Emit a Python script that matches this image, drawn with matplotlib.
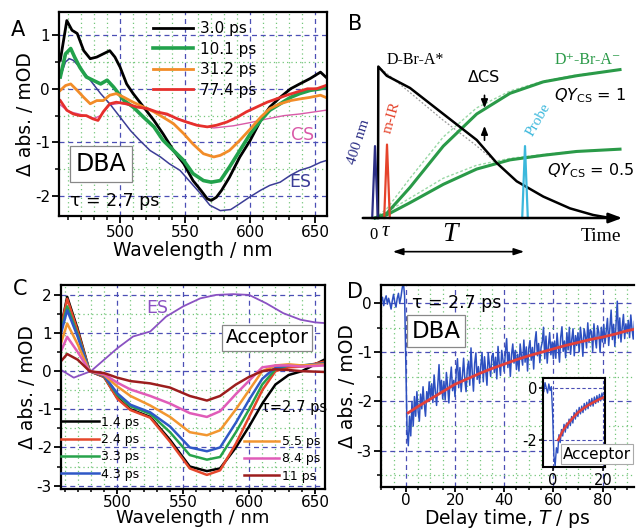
import numpy as np
import matplotlib
matplotlib.use("Agg")
import matplotlib.pyplot as plt
from matplotlib.ticker import MultipleLocator

plt.rcParams['font.family'] = ['DejaVu Sans']
plt.rcParams['mathtext.fontset'] = 'dejavusans'
plt.rcParams['axes.unicode_minus'] = False

# ---------------- Panel A data (DBA, tau = 2.7 ps) ----------------
a_wl_black = [454, 459, 463, 467, 472, 477, 482, 487, 492, 496, 500, 505, 510, 518, 526, 533, 541, 549, 556, 562, 567, 570, 574, 578, 584, 592, 600, 608, 615, 623, 631, 638, 646, 654, 658]
a_black = [0.53, 1.27, 1.09, 1.03, 0.71, 0.56, 0.59, 0.65, 0.71, 0.59, 0.40, 0.09, -0.09, -0.34, -0.59, -0.84, -1.15, -1.40, -1.71, -1.89, -2.05, -2.08, -2.02, -1.89, -1.65, -1.27, -0.96, -0.59, -0.34, -0.16, 0.0, 0.09, 0.19, 0.31, 0.22]
a_wl_green = [454, 458, 462, 465, 469, 474, 479, 485, 490, 495, 503, 510, 518, 526, 533, 541, 549, 556, 564, 570, 577, 584, 592, 600, 608, 615, 623, 631, 638, 646, 654, 658]
a_green = [0.22, 0.65, 0.75, 0.59, 0.40, 0.22, 0.16, 0.09, 0.16, 0.03, -0.22, -0.34, -0.53, -0.71, -0.96, -1.15, -1.34, -1.58, -1.71, -1.74, -1.71, -1.46, -1.15, -0.84, -0.59, -0.40, -0.28, -0.16, -0.09, -0.03, 0.0, 0.03]
a_wl_orange = [454, 458, 462, 467, 472, 477, 482, 487, 492, 497, 503, 510, 518, 526, 533, 541, 549, 556, 564, 572, 577, 584, 592, 600, 608, 615, 623, 631, 638, 646, 654, 658]
a_orange = [-0.03, 0.06, 0.09, -0.03, -0.16, -0.28, -0.22, -0.22, -0.12, -0.09, -0.16, -0.25, -0.34, -0.43, -0.53, -0.65, -0.84, -1.03, -1.21, -1.27, -1.24, -1.15, -0.96, -0.75, -0.53, -0.37, -0.28, -0.22, -0.19, -0.16, -0.12, -0.16]
a_wl_red = [454, 459, 464, 469, 474, 479, 483, 487, 492, 497, 505, 513, 521, 528, 536, 544, 551, 559, 567, 574, 582, 590, 597, 605, 613, 620, 628, 636, 644, 651, 658]
a_red = [-0.22, -0.40, -0.47, -0.50, -0.50, -0.56, -0.59, -0.43, -0.28, -0.25, -0.28, -0.34, -0.37, -0.43, -0.47, -0.56, -0.62, -0.68, -0.71, -0.68, -0.62, -0.53, -0.43, -0.34, -0.25, -0.19, -0.12, -0.06, 0.0, 0.0, 0.06]
a_wl_cs = [454, 460, 470, 480, 485, 492, 500, 520, 540, 560, 572, 587, 600, 613, 626, 638, 658]
a_cs = [-0.30, -0.42, -0.48, -0.55, -0.50, -0.30, -0.27, -0.38, -0.52, -0.68, -0.73, -0.69, -0.63, -0.56, -0.50, -0.47, -0.40]
a_wl_es = [454, 458, 461, 464, 469, 477, 485, 492, 500, 508, 515, 523, 531, 538, 546, 554, 562, 569, 577, 585, 592, 600, 608, 615, 623, 631, 638, 646, 654, 658]
a_es = [0.22, 0.50, 0.56, 0.53, 0.40, 0.16, -0.09, -0.28, -0.53, -0.78, -0.96, -1.15, -1.27, -1.40, -1.52, -1.74, -1.96, -2.17, -2.27, -2.25, -2.14, -2.01, -1.89, -1.80, -1.74, -1.61, -1.52, -1.46, -1.37, -1.34]
a_labels = ['3.0 ps', '10.1 ps', '31.2 ps', '77.4 ps']

# ---------------- Panel C data (Acceptor) ----------------
c_wl = [457, 462, 470, 479, 490, 500, 510, 525, 540, 555, 568, 578, 590, 600, 610, 620, 630, 640, 657]
c_14 = [1.10, 1.95, 1.10, 0.0, -0.15, -0.70, -1.00, -1.20, -1.80, -2.50, -2.62, -2.55, -2.00, -1.45, -0.85, -0.35, -0.10, 0.00, 0.30]
c_24 = [1.10, 1.90, 1.05, 0.0, -0.15, -0.72, -1.02, -1.22, -1.85, -2.55, -2.72, -2.60, -1.90, -1.20, -0.50, 0.00, 0.10, 0.12, 0.25]
c_33 = [1.00, 1.70, 0.95, 0.0, -0.12, -0.62, -0.92, -1.12, -1.60, -2.20, -2.32, -2.25, -1.60, -1.00, -0.35, 0.05, 0.15, 0.15, 0.20]
c_43 = [0.95, 1.60, 0.90, 0.0, -0.12, -0.58, -0.88, -1.08, -1.45, -2.00, -2.10, -2.00, -1.35, -0.75, -0.20, 0.10, 0.15, 0.15, 0.20]
c_55 = [0.70, 1.25, 0.70, 0.0, -0.10, -0.40, -0.65, -0.90, -1.20, -1.60, -1.68, -1.55, -1.00, -0.50, 0.00, 0.15, 0.18, 0.15, 0.18]
c_84 = [0.50, 0.90, 0.50, 0.0, -0.08, -0.30, -0.48, -0.65, -0.85, -1.10, -1.20, -1.05, -0.60, -0.25, 0.10, 0.15, 0.15, 0.12, 0.15]
c_11 = [0.25, 0.45, 0.30, 0.0, -0.05, -0.17, -0.26, -0.32, -0.43, -0.65, -0.77, -0.65, -0.35, -0.15, 0.00, 0.05, 0.03, 0.00, -0.02]
c_wl_es = [457, 467, 480, 500, 512, 525, 537, 550, 563, 575, 588, 600, 613, 626, 639, 650, 658]
c_es = [0.04, -0.17, 0.0, 0.60, 0.91, 1.04, 1.43, 1.70, 1.91, 2.00, 2.02, 2.00, 1.78, 1.52, 1.35, 1.28, 1.26]
c_labels = ['1.4 ps', '2.4 ps', '3.3 ps', '4.3 ps', '5.5 ps', '8.4 ps', '11 ps']

# ---------------- Panel D data (delay-time trace) ----------------
d_t_start, d_t_step = -10.0, 0.5
d_trace = [0.05, 0.12, -0.05, 0.08, 0.15, -0.02, 0.10, 0.00, -0.12, 0.05, 0.18, 0.02, -0.08, 0.10, 0.20, 0.00, 0.12, 0.30, 0.42, 0.15,
           -1.20, -2.60, -2.90, -2.30, -2.70, -2.00, -2.50, -1.90, -2.30, -1.80, -2.20, -2.40, -1.85, -2.15, -1.70, -2.05, -2.30, -1.80, -2.00, -1.60, -1.95,
           -1.64, -2.02, -1.46, -1.79, -2.08, -1.66, -1.25, -1.83, -1.57, -1.95,
           -1.59, -1.97, -1.41, -1.69, -2.03, -1.56, -1.30, -1.78, -1.57, -1.90,
           -1.39, -1.13, -1.72, -1.31, -1.80, -1.48, -1.12, -1.56, -1.80, -1.34,
           -1.18, -1.67, -0.91, -1.40, -1.79, -1.22, -1.01, -1.55, -1.29, -1.63,
           -1.27, -1.01, -1.60, -1.09, -1.38, -1.67, -1.01, -1.25, -1.49, -1.08,
           -1.02, -1.41, -1.10, -1.54, -0.88, -1.23, -1.47, -0.96, -1.15, -1.39,
           -0.98, -0.72, -1.31, -1.00, -1.49, -1.04, -0.83, -1.22, -0.96, -1.35,
           -1.04, -1.38, -0.83, -1.07, -1.26, -0.75, -1.20, -0.89, -1.38, -0.92,
           -0.76, -1.16, -0.90, -1.34, -0.79, -0.58, -1.07, -0.82, -1.21, -0.90,
           -0.79, -0.49, -1.13, -0.67, -1.22, -0.86, -0.60, -1.05, -0.79, -1.13,
           -0.77, -1.12, -0.61, -0.90, -1.20, -0.69, -0.48, -0.98, -0.77, -1.11,
           -0.60, -0.95, -0.49, -1.04, -0.73, -0.52, -1.07, -0.66, -0.86, -0.60,
           -0.99, -0.49, -0.73, -1.08, -0.52, -0.66, -0.91, -0.40, -0.80, -0.54,
           -0.58, -0.98, -0.42, -0.72, -0.91, -0.46, -0.60, -1.00, -0.49, -0.79,
           -0.43, -0.82, -0.57, -0.31, -0.86, -0.50, -0.14, -0.74, -0.43, -0.88,
           -0.42, 0.04, -0.71, -0.30, -0.79, -0.49, -0.23, -0.72, -0.42, -0.61,
           -0.35, -0.70, -0.24, -0.53, -0.73, -0.37]
d_fit_t = [1, 5, 10, 15, 20, 25, 30, 35, 40, 45, 50, 55, 60, 65, 70, 75, 80, 85, 90, 93]
d_fit = [-2.23, -2.10, -1.95, -1.80, -1.65, -1.54, -1.43, -1.33, -1.24, -1.15, -1.07, -1.00, -0.93, -0.86, -0.80, -0.74, -0.69, -0.63, -0.56, -0.53]
# inset (Acceptor)
i_t_start, i_t_step = -4.0, 0.5
i_trace = [0.10, -0.15, 0.20, 0.00, -0.20, 0.15, -0.10, 0.05, -1.00, -2.60, -3.00, -2.30, -2.50, -1.80, -2.10, -1.60, -1.85, -1.40, -1.70, -1.35,
           -1.55, -1.20, -1.45, -1.10, -1.35, -0.95, -1.20, -0.85, -1.10, -0.75, -1.00, -0.70, -0.95, -0.60, -0.85, -0.55, -0.80, -0.45, -0.70, -0.40,
           -0.70, -0.35, -0.60, -0.30, -0.55, -0.25, -0.50, -0.20, -0.45, -0.30]
i_fit_t = [2.2, 4, 6, 8, 10, 12, 14, 16, 18, 20.5]
i_fit = [-2.00, -1.65, -1.38, -1.15, -0.95, -0.80, -0.67, -0.56, -0.46, -0.35]

# ---------------- Panel B schematic ----------------
b_t_black = [0.30, 0.33, 1.17, 3.5, 6.83, 10.17, 12.17, 14.17, 16.83, 19.5, 21.8, 23.5]
b_black = [0.0, 0.99, 0.93, 0.85, 0.68, 0.51, 0.36, 0.24, 0.14, 0.063, 0.02, 0.0]
b_t_dot = [0.33, 3.5, 6.8, 10.0, 12.2]
b_dot = [0.99, 0.82, 0.64, 0.48, 0.36]
b_t_green = [0.0, 1.17, 3.5, 6.83, 10.17, 13.5, 16.83, 20.17, 24.5]
b_qy1 = [0.0, 0.03, 0.20, 0.47, 0.68, 0.815, 0.89, 0.93, 0.97]
b_qy1_alt = [0.0, 0.06, 0.26, 0.53, 0.72, 0.83, 0.895, 0.935, 0.97]
b_qy05 = [0.0, 0.02, 0.10, 0.22, 0.32, 0.38, 0.41, 0.435, 0.45]
b_qy05_alt = [0.0, 0.04, 0.13, 0.26, 0.345, 0.39, 0.415, 0.437, 0.45]
b_pulse_t = [0.0, 1.2, 15.0]
b_pulse_h = [0.47, 0.48, 0.47]
b_pulse_colors = ['#2c2f86', '#e5432b', '#3cb8dc']

# ---------------- styling helpers ----------------
BLUE_GRID = '#4b4fb5'
GREEN_GRID = '#74c77a'
TICK = 11
LAB = 13.5
W, H = 636, 531
fig = plt.figure(figsize=(W / 100, H / 100), dpi=100)


def px_axes(left, top, right, bottom):
    return fig.add_axes([left / W, 1 - bottom / H, (right - left) / W, (bottom - top) / H])


def style(ax, xmaj, xmin, ymaj, ymin, xlen=5, xpad=1.5):
    ax.xaxis.set_major_locator(MultipleLocator(xmaj))
    ax.xaxis.set_minor_locator(MultipleLocator(xmin))
    ax.yaxis.set_major_locator(MultipleLocator(ymaj))
    ax.yaxis.set_minor_locator(MultipleLocator(ymin))
    ax.grid(which='major', color=BLUE_GRID, ls=(0, (4, 3)), lw=0.9)
    ax.grid(which='minor', color=GREEN_GRID, ls=(0, (1, 2.5)), lw=0.9)
    ax.set_axisbelow(True)
    for s in ax.spines.values():
        s.set_linewidth(1.6)
    ax.tick_params(which='major', direction='out', length=5, width=1.3, labelsize=TICK, pad=1.5)
    ax.tick_params(which='minor', direction='out', length=3, width=1.1)
    ax.tick_params(axis='x', which='major', length=xlen, pad=xpad)
    ax.tick_params(axis='x', which='minor', length=min(3, xlen * 0.6))


# ---------------- Panel A ----------------
axA = px_axes(59, 12, 327, 216)
axA.plot(a_wl_cs, a_cs, color='#d95aa8', lw=1.0)
axA.plot(a_wl_es, a_es, color='#3b3d96', lw=1.1)
hA = []
hA += axA.plot(a_wl_black, a_black, color='black', lw=2.0)
hA += axA.plot(a_wl_green, a_green, color='#22a24c', lw=2.6)
hA += axA.plot(a_wl_orange, a_orange, color='#f28c28', lw=2.0)
hA += axA.plot(a_wl_red, a_red, color='#e6302c', lw=2.0)
axA.set_xlim(453, 659)
axA.set_ylim(-2.37, 1.43)
style(axA, 50, 10, 1, 0.5)
axA.set_xlabel('Wavelength / nm', fontsize=LAB, labelpad=1)
axA.set_ylabel('Δ abs. / mOD', fontsize=LAB, labelpad=0)
axA.legend(hA, a_labels, loc='upper left', bbox_to_anchor=(0.35, 0.955), frameon=False,
           fontsize=11, handlelength=2.6, handletextpad=0.5, labelspacing=0.36,
           borderpad=0, borderaxespad=0)
axA.text(0.157, 0.255, 'DBA', transform=axA.transAxes, fontsize=17, ha='center', va='center',
         bbox=dict(boxstyle='square,pad=0.25', fc='white', ec='#888888', lw=0.9))
axA.text(0.209, 0.074, 'τ = 2.7 ps', transform=axA.transAxes, fontsize=12.5, ha='center', va='center')
axA.text(0.907, 0.397, 'CS', transform=axA.transAxes, fontsize=12.5, ha='center', va='center', color='#d95aa8')
axA.text(0.899, 0.167, 'ES', transform=axA.transAxes, fontsize=12.5, ha='center', va='center', color='#3b3d96')
fig.text(17.5 / W, 1 - 29.5 / H, 'A', fontsize=15, ha='center', va='center')

# ---------------- Panel C ----------------
axC = px_axes(61, 285, 325, 489)
axC.plot(c_wl_es, c_es, color='#8a52c2', lw=1.3)
c_colors = ['black', '#e5472b', '#27a34b', '#2f58c6', '#f29630', '#e05cb8', '#9c1d1d']
c_series = [c_14, c_24, c_33, c_43, c_55, c_84, c_11]
hC = []
for ys, col in zip(c_series, c_colors):
    hC += axC.plot(c_wl, ys, color=col, lw=1.8)
axC.set_xlim(457.3, 657.6)
axC.set_ylim(-3.09, 2.26)
style(axC, 50, 10, 1, 0.5, xlen=3.5, xpad=1)
axC.set_xlabel('Wavelength / nm', fontsize=13, labelpad=-1)
axC.set_ylabel('Δ abs. / mOD', fontsize=LAB, labelpad=0)
legC1 = axC.legend(hC[:4], c_labels[:4], loc='upper left', bbox_to_anchor=(0.0, 0.36), frameon=False,
                   fontsize=9, handlelength=3.0, handletextpad=0.2, labelspacing=0.35,
                   borderpad=0, borderaxespad=0)
axC.add_artist(legC1)
axC.legend(hC[4:], c_labels[4:], loc='upper left', bbox_to_anchor=(0.695, 0.265), frameon=False,
           fontsize=9, handlelength=2.8, handletextpad=0.2, labelspacing=0.35,
           borderpad=0, borderaxespad=0)
axC.text(0.364, 0.888, 'ES', transform=axC.transAxes, fontsize=12.5, ha='center', va='center', color='#8a52c2')
axC.text(0.780, 0.741, 'Acceptor', transform=axC.transAxes, fontsize=13.5, ha='center', va='center',
         bbox=dict(boxstyle='square,pad=0.2', fc='white', ec='#888888', lw=0.9))
axC.text(0.883, 0.40, 'τ=2.7 ps', transform=axC.transAxes, fontsize=10.5, ha='center', va='center')
fig.text(20 / W, 1 - 289 / H, 'C', fontsize=15, ha='center', va='center')

# ---------------- Panel D ----------------
axD = px_axes(381, 285, 634, 487)
d_t = d_t_start + d_t_step * np.arange(len(d_trace))
axD.plot(d_t, d_trace, color='#2d50c0', lw=1.1)
axD.plot(d_fit_t, d_fit, color='#e2403a', lw=2.0)
axD.set_xlim(-10.1, 92.8)
axD.set_ylim(-3.74, 0.37)
style(axD, 20, 5, 1, 0.5, xlen=3.5, xpad=1)
axD.spines['right'].set_visible(False)
axD.set_xlabel('Delay time, $T$ / ps', fontsize=LAB, labelpad=-1)
axD.set_ylabel('Δ abs. / mOD', fontsize=LAB, labelpad=0)
axD.text(0.30, 0.912, 'τ = 2.7 ps', transform=axD.transAxes, fontsize=12.5, ha='center', va='center')
axD.text(0.217, 0.771, 'DBA', transform=axD.transAxes, fontsize=16.5, ha='center', va='center',
         bbox=dict(boxstyle='square,pad=0.2', fc='white', ec='#888888', lw=0.9))
fig.text(355 / W, 1 - 292 / H, 'D', fontsize=15, ha='center', va='center')

axI = px_axes(543, 378, 605, 467)
i_t = i_t_start + i_t_step * np.arange(len(i_trace))
axI.plot(i_t, i_trace, color='#2d50c0', lw=1.0)
axI.plot(i_fit_t, i_fit, color='#e2403a', lw=1.8)
axI.set_xlim(-3.8, 20.7)
axI.set_ylim(-3.04, 0.38)
axI.xaxis.set_major_locator(MultipleLocator(20))
axI.yaxis.set_major_locator(MultipleLocator(2))
axI.grid(which='major', color=BLUE_GRID, ls=(0, (3, 2)), lw=0.8)
for s in axI.spines.values():
    s.set_linewidth(1.5)
axI.tick_params(direction='out', length=3, width=1.1, labelsize=10.5, pad=1)
axI.text(0.87, 0.146, 'Acceptor', transform=axI.transAxes, fontsize=11, ha='center', va='center',
         bbox=dict(boxstyle='square,pad=0.15', fc='white', ec='#aaaaaa', lw=0.8), clip_on=False, zorder=5)

# ---------------- Panel B ----------------
axB = px_axes(330, 0, 636, 260)
axB.set_xlim(-4.5, 26.1)
axB.set_ylim(-0.2745, 1.425)
axB.axis('off')
axB.annotate('', xy=(25.0, 0), xytext=(-1.5, 0),
             arrowprops=dict(arrowstyle='-|>,head_length=0.8,head_width=0.3', color='black', lw=1.8))
axB.plot(b_t_dot, b_dot, color='#999999', lw=0.9, ls=(0, (1.5, 1.5)))
axB.plot(b_t_green, b_qy1_alt, color='#9ad8a6', lw=1.0, ls=(0, (2, 1.5)))
axB.plot(b_t_green, b_qy05_alt, color='#9ad8a6', lw=1.0, ls=(0, (2, 1.5)))
axB.plot(b_t_green, b_qy1, color='#2a9a48', lw=2.2)
axB.plot(b_t_green, b_qy05, color='#2a9a48', lw=2.2)
axB.plot(b_t_black, b_black, color='black', lw=1.8)
pw = 0.28
for tc, hh, col in zip(b_pulse_t, b_pulse_h, b_pulse_colors):
    axB.plot([tc - pw, tc, tc + pw], [0, hh, 0], color=col, lw=1.6)
serif = ['Liberation Serif', 'DejaVu Serif']
axB.text(-1.95, 1.27, 'B', fontsize=15, ha='center', va='center')
axB.text(4.0, 1.03, 'D-Br-A*', fontsize=11.5, family=serif, ha='center', va='center')
axB.text(21.3, 1.03, 'D⁺-Br-A⁻', fontsize=11.5, family=serif, ha='center', va='center', color='#2a9a48')
axB.text(10.95, 0.92, 'ΔCS', fontsize=11.5, ha='center', va='center')
axB.annotate('', xy=(10.95, 0.70), xytext=(10.95, 0.82),
             arrowprops=dict(arrowstyle='-|>,head_length=0.5,head_width=0.2', color='black', lw=1.2))
axB.annotate('', xy=(10.95, 0.62), xytext=(10.95, 0.49),
             arrowprops=dict(arrowstyle='-|>,head_length=0.5,head_width=0.2', color='black', lw=1.2))
axB.text(21.5, 0.80, '$QY_{\\mathrm{CS}}$ = 1', fontsize=11.5, ha='center', va='center')
axB.text(21.6, 0.31, '$QY_{\\mathrm{CS}}$ = 0.5', fontsize=11.5, ha='center', va='center')
axB.text(-1.6, 0.50, '400 nm', fontsize=11, family=serif, rotation=72, ha='center', va='center', color='#2c2f86')
axB.text(1.7, 0.66, 'm-IR', fontsize=11, family=serif, rotation=74, ha='center', va='center', color='#e5432b')
axB.text(16.3, 0.64, 'Probe', fontsize=11, family=serif, rotation=60, ha='center', va='center', color='#3cb8dc')
axB.text(-0.2, -0.11, '0', fontsize=12, family=serif, ha='center', va='center')
axB.text(1.0, -0.09, 'τ', fontsize=15, family=serif, style='italic', ha='center', va='center')
axB.text(7.45, -0.11, 'T', fontsize=20, family=serif, style='italic', ha='center', va='center')
axB.text(22.6, -0.124, 'Time', fontsize=14, family=serif, ha='center', va='center')
axB.annotate('', xy=(15.2, -0.22), xytext=(1.5, -0.22),
             arrowprops=dict(arrowstyle='<|-|>,head_length=0.6,head_width=0.2', color='black', lw=1.2))

fig.savefig('out.png', dpi=100)
